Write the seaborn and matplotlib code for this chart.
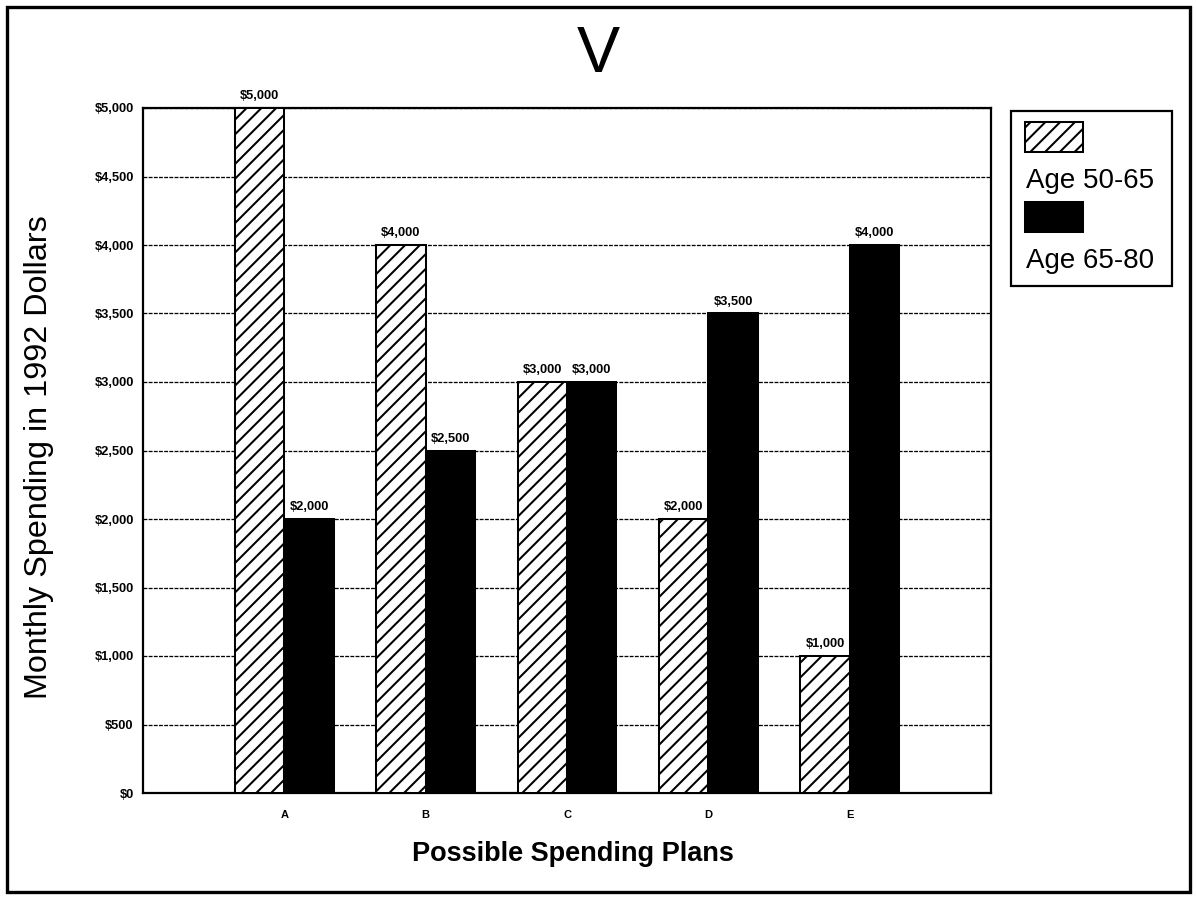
import numpy as np
import pandas as pd
import seaborn as sns
import matplotlib
matplotlib.use("Agg")
import matplotlib.pyplot as plt
from matplotlib.patches import Rectangle

# ---- data ----
plans = ["A", "B", "C", "D", "E"]
age_50_65 = [5000, 4000, 3000, 2000, 1000]
age_65_80 = [2000, 2500, 3000, 3500, 4000]
series_names = ["Age 50-65", "Age 65-80"]
y_ticks = list(range(0, 5001, 500))

df = pd.DataFrame({
    "Plan": plans * 2,
    "Spending": age_50_65 + age_65_80,
    "Group": [series_names[0]] * len(plans) + [series_names[1]] * len(plans),
})

sns.set_style("white")
plt.rcParams["font.family"] = ["Liberation Sans", "DejaVu Sans"]
plt.rcParams["hatch.linewidth"] = 1.1
plt.rcParams["hatch.color"] = "black"
for k in ["text.color", "axes.labelcolor", "xtick.color", "ytick.color", "axes.edgecolor"]:
    plt.rcParams[k] = "black"

W, H, DPI = 1197, 897, 133
fig = plt.figure(figsize=(W / DPI, H / DPI), dpi=DPI)
fig.patch.set_facecolor("white")

def fx(px):
    return px / W

def fy(py):
    return 1 - py / H

ax = fig.add_axes([fx(143), fy(793), (991 - 143) / W, (793 - 108) / H])

sns.barplot(data=df, x="Plan", y="Spending", hue="Group", order=plans,
            hue_order=series_names, palette=["white", "black"], saturation=1,
            width=0.7, edgecolor="black", linewidth=1.1, ax=ax, legend=False,
            zorder=3, errorbar=None)

HATCH = "///"
for bar in ax.containers[0]:
    bar.set_hatch(HATCH)

for cont, vals in zip(ax.containers, [age_50_65, age_65_80]):
    ax.bar_label(cont, labels=[f"${v:,}" for v in vals], padding=3,
                 fontsize=7, fontweight="bold", zorder=4)

ax.set_xlim(-1, 5)
ax.set_ylim(0, 5000)
ax.set_yticks(y_ticks)
ax.set_yticklabels([f"${v:,}" for v in y_ticks], fontsize=7, fontweight="bold")
ax.tick_params(axis="y", length=4, width=1, direction="out", pad=1, colors="black")
ax.set_xticks(range(len(plans)))
ax.set_xticklabels(plans, fontsize=6, fontweight="bold")
ax.tick_params(axis="x", which="major", length=0, pad=9, colors="black")
ax.set_xticks([-1, 0.5, 1.5, 2.5, 3.5, 5], minor=True)
ax.tick_params(axis="x", which="minor", length=4, width=1, direction="out", colors="black")

ax.set_axisbelow(True)
ax.grid(axis="y", color="black", linewidth=0.7, linestyle=(0, (3, 1)), zorder=1)
ax.grid(axis="x", visible=False)
for s in ax.spines.values():
    s.set_visible(True)
    s.set_color("black")
    s.set_linewidth(1.2)

ax.set_xlabel("Possible Spending Plans", fontsize=14.7, fontweight="bold")
ax.xaxis.set_label_coords((573 - 143) / 848, -(841 - 793) / 685)
ax.set_ylabel("Monthly Spending in 1992 Dollars", fontsize=17.5)
ax.yaxis.set_label_coords(-(143 - 54) / 848, 0.49)

fig.text(fx(598), fy(72), "V", ha="center", va="baseline", fontsize=35,
         family=["Liberation Sans", "DejaVu Sans"])

# legend (patch above label)
fig.add_artist(Rectangle((fx(1011), fy(286)), (1172 - 1011) / W, (286 - 111) / H,
                         transform=fig.transFigure, fill=False, ec="black", lw=1.2))
fig.add_artist(Rectangle((fx(1025), fy(152)), (1083 - 1025) / W, (152 - 122) / H,
                         transform=fig.transFigure, fc="white", ec="black", lw=1.1,
                         hatch=HATCH))
fig.add_artist(Rectangle((fx(1025), fy(232)), (1083 - 1025) / W, (232 - 202) / H,
                         transform=fig.transFigure, fc="black", ec="black", lw=1.1))
fig.text(fx(1026), fy(188), series_names[0], ha="left", va="baseline", fontsize=15)
fig.text(fx(1026), fy(268), series_names[1], ha="left", va="baseline", fontsize=15)

# outer frame
fig.add_artist(Rectangle((fx(7), fy(892)), (1190 - 7) / W, (892 - 7) / H,
                         transform=fig.transFigure, fill=False, ec="black", lw=1.8))

fig.savefig("out.png", dpi=DPI)
